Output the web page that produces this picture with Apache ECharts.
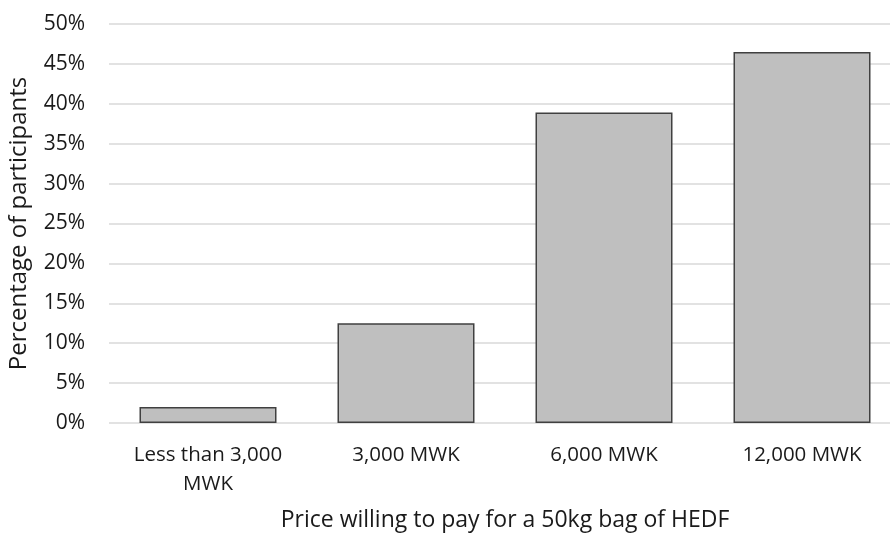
<!DOCTYPE html>
<html>
<head>
<meta charset="utf-8">
<script src="https://cdn.jsdelivr.net/npm/echarts@6/dist/echarts.min.js"></script>
<style>
  html, body { margin: 0; padding: 0; background: #fff; }
  #chart { width: 890px; height: 534px; }
</style>
</head>
<body>
<div id="chart"></div>
<script>
// Willingness to pay for a 50kg bag of HEDF
const categories = ['Less than 3,000\nMWK', '3,000 MWK', '6,000 MWK', '12,000 MWK'];
const shares = [2.0, 12.5, 38.9, 46.5];
const yTicks = [0, 5, 10, 15, 20, 25, 30, 35, 40, 45, 50];

const FONT = '"Open Sans", "Noto Sans", sans-serif';
const TEXT = '#1a1a1a';
const chart = echarts.init(document.getElementById('chart'), null, { renderer: 'canvas' });

chart.setOption({
  animation: false,
  backgroundColor: '#ffffff',
  // plot area runs a little past the right edge of the canvas
  grid: { left: 109, width: 792, top: 24, bottom: 111, containLabel: false, outerBoundsMode: 'none' },
  xAxis: {
    type: 'category',
    data: categories,
    name: 'Price willing to pay for a 50kg bag of HEDF',
    nameLocation: 'middle',
    nameGap: 86,
    nameTextStyle: { color: TEXT, fontFamily: FONT, fontSize: 23 },
    axisLine: { show: false },
    axisTick: { show: false },
    axisLabel: {
      color: TEXT,
      fontFamily: FONT,
      fontSize: 20.5,
      lineHeight: 29,
      margin: 18,
      interval: 0
    }
  },
  yAxis: {
    type: 'value',
    min: yTicks[0],
    max: yTicks[yTicks.length - 1],
    interval: 5,
    name: 'Percentage of participants',
    nameLocation: 'middle',
    nameGap: 78,
    nameTextStyle: { color: TEXT, fontFamily: FONT, fontSize: 24 },
    axisLine: { show: false },
    axisTick: { show: false },
    axisLabel: {
      color: TEXT,
      fontFamily: FONT,
      fontSize: 21,
      margin: 24,
      formatter: v => v + '%'
    },
    splitLine: { lineStyle: { color: '#d9d9d9', width: 1.5 } }
  },
  series: [{
    type: 'bar',
    data: shares,
    barWidth: 137,
    itemStyle: { color: '#bfbfbf', borderColor: '#404040', borderWidth: 1.5 }
  }]
});
</script>
</body>
</html>
